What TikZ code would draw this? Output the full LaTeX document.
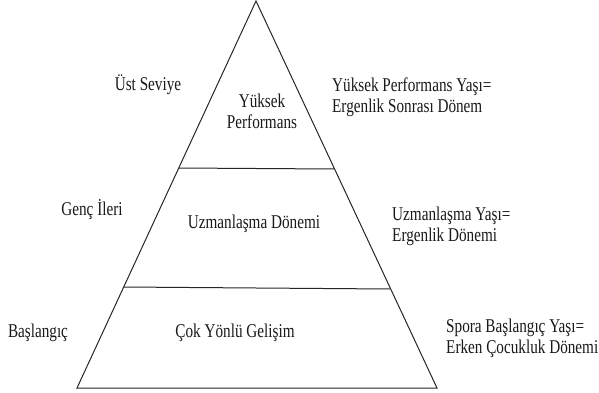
\documentclass[tikz,border=0pt]{standalone}
\usepackage{fontspec}
\setmainfont{Liberation Serif}
\newfontfamily\narrowserif[FakeStretch=0.78]{Liberation Serif}
\begin{document}
\begin{tikzpicture}[x=1pt,y=-1pt,
  edge/.style={line width=1pt,draw=black!85},
  lbl/.style={inner sep=0pt,font=\narrowserif\fontsize{19.5}{21}\selectfont,text=black!90},
  lleft/.style={lbl,align=left,anchor=west},
  lmid/.style={lbl,align=center}]
\useasboundingbox (0,0) rectangle (599,393);
% pyramid outline and level dividers
\coordinate (apex) at (256,1);
\coordinate (bl) at (77,388);
\coordinate (br) at (437,388);
\coordinate (u1) at (178.5,168);
\coordinate (u2) at (334,169);
\coordinate (m1) at (123,287);
\coordinate (m2) at (390,289);
\draw[edge] (apex) -- (br) -- (bl) -- cycle;
\draw[edge] (u1) -- (u2);
\draw[edge] (m1) -- (m2);
% levels inside the pyramid
\node[lmid] (top) at (262,111) {Yüksek\\Performans};
\node[lmid] (mid) at (254,224) {Uzmanlaşma Dönemi};
\node[lmid] (low) at (235,333) {Çok Yönlü Gelişim};
% level names on the left
\node[lmid] (lvl1) at (148,85) {Üst Seviye};
\node[lmid] (lvl2) at (92,210) {Genç İleri};
\node[lmid] (lvl3) at (38,333) {Başlangıç};
% age periods on the right
\node[lleft] (age1) at (332,97) {Yüksek Performans Yaşı=\\Ergenlik Sonrası Dönem};
\node[lleft] (age2) at (392,226) {Uzmanlaşma Yaşı=\\Ergenlik Dönemi};
\node[lleft] (age3) at (446,338) {Spora Başlangıç Yaşı=\\Erken Çocukluk Dönemi};
\end{tikzpicture}
\end{document}
